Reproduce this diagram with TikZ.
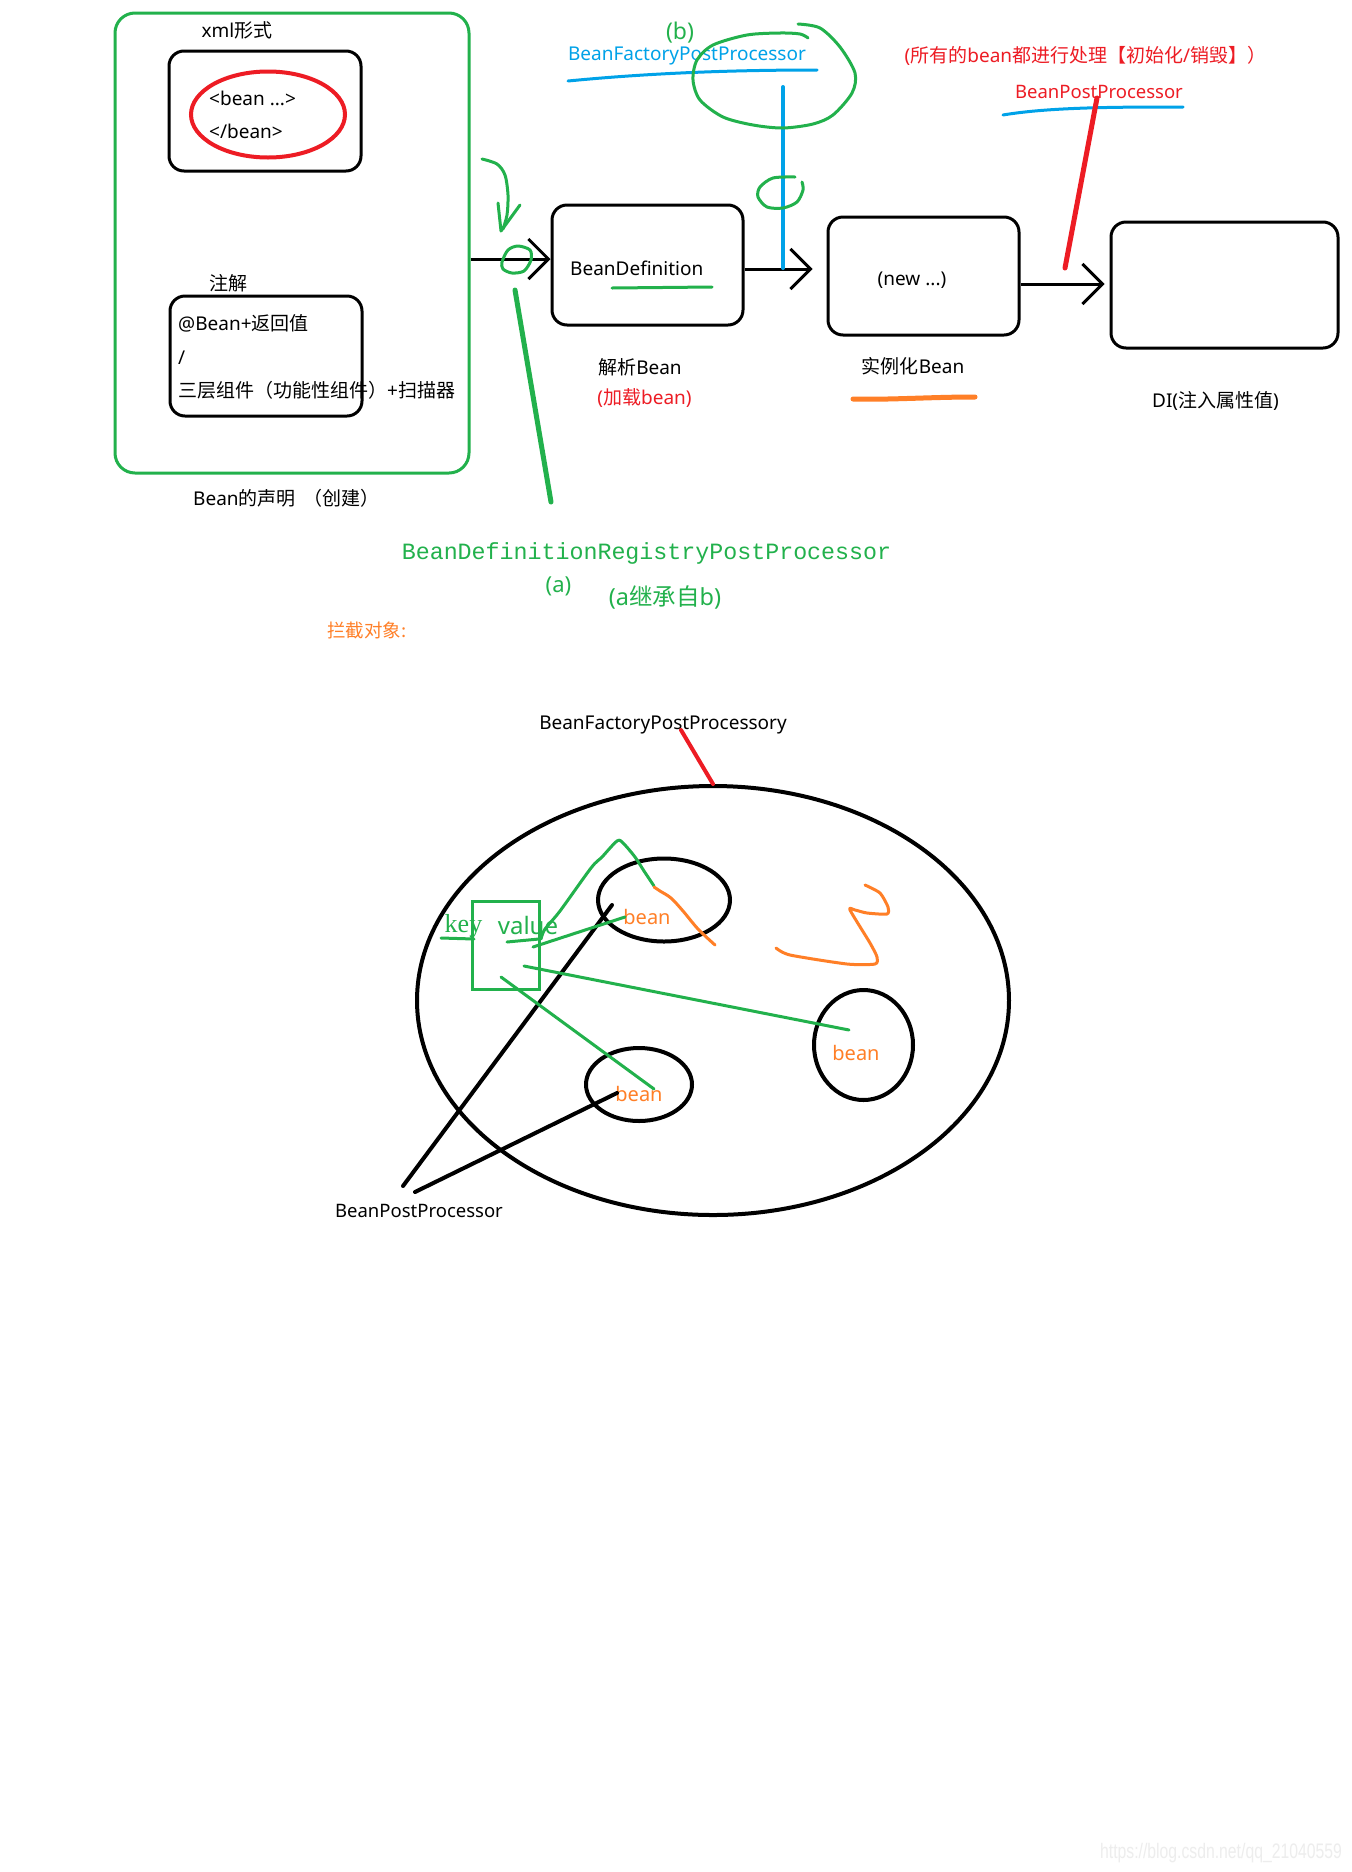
\documentclass[tikz,border=0pt]{standalone}
\usepackage{fontspec}
\setmainfont{Noto Sans}
\newfontfamily\zh{Noto Sans CJK SC}
\newfontfamily\codefont{Liberation Mono}
\newfontfamily\keyfont{Liberation Serif}
\newfontfamily\wmfont{Liberation Sans}
\usetikzlibrary{arrows.meta,shapes.geometric}

\definecolor{pgreen}{RGB}{34,177,76}
\definecolor{pred}{RGB}{237,28,36}
\definecolor{pblue}{RGB}{0,162,232}
\definecolor{porange}{RGB}{255,127,39}

\newcommand{\fsz}[1]{\fontsize{#1}{#1}\selectfont}

\tikzset{
  box/.style={draw, line width=3pt, rounded corners=15pt, inner sep=0pt},
  ring/.style={draw, ellipse, line width=4pt, inner sep=0pt},
  lbl/.style={inner sep=0pt, font=\fsz{19}},
  arr/.style={line width=3pt, -{Straight Barb[length=20pt,width=40pt]}},
  pen/.style={line width=3pt, line cap=round, line join=round},
}

\begin{document}
\begin{tikzpicture}[x=1pt, y=-1pt]
\useasboundingbox (0,0) rectangle (1352,1872);
\fill[white] (0,0) rectangle (1352,1872);

% bean declaration
\node[box, draw=pgreen, rounded corners=20pt, minimum width=354pt, minimum height=460pt] (decl) at (292,243) {};
\node[lbl] (xmltitle) at (237,30) {xml{\zh 形式}};
\node[box, minimum width=192pt, minimum height=120pt] (xmlbox) at (265,111) {};
\node[ring, draw=pred, minimum width=154pt, minimum height=86pt] (xmlring) at (268,114.5) {};
\node[lbl, anchor=west] (beanopen) at (209,98) {<bean ...>};
\node[lbl, anchor=west] (beanclose) at (209,131) {</bean>};
\node[lbl] (anntitle) at (228,283) {\zh 注解};
\node[box, minimum width=192pt, minimum height=120pt] (annbox) at (266,356) {};
\node[lbl, anchor=west] (annone) at (178,323) {@Bean+{\zh 返回值}};
\node[lbl, anchor=west] (anntwo) at (178,358) {/};
\node[lbl, anchor=west] (annthree) at (178,390) {{\zh 三层组件（功能性组件）}+{\zh 扫描器}};
\node[lbl, anchor=west] (decltitle) at (193,498) {Bean{\zh 的声明\hspace{8pt}（创建）}};

% main flow
\node[box, minimum width=191pt, minimum height=120pt] (bdbox) at (647.5,265) {};
\node[box, minimum width=191pt, minimum height=118pt] (newbox) at (923.5,276) {};
\node[box, minimum width=227pt, minimum height=126pt] (dibox) at (1224.5,285) {};
\node[lbl, anchor=west] (bdtext) at (570,268) {BeanDefinition};
\node[lbl] (newtext) at (912,280) {(new ...)};
\draw[arr] (decl.east |- 0,259) -- (bdbox.west |- 0,259);
\draw[arr, shorten >=14pt] (bdbox.east |- 0,269) -- (newbox.west |- 0,269);
\draw[arr, shorten >=5pt] (newbox.east |- 0,284) -- (dibox.west |- 0,284);
\node[lbl] (parse) at (640,367) {{\zh 解析}Bean};
\node[lbl, text=pred] (load) at (644.5,398) {({\zh 加载}bean)};
\node[lbl] (inst) at (913,366) {{\zh 实例化}Bean};
\node[lbl] (di) at (1215.5,401) {DI({\zh 注入属性值})};

% processors
\node[lbl, text=pgreen, font=\fsz{23}] (blabel) at (680,33) {(b)};
\node[lbl, text=pblue] (bfpp) at (687,56) {BeanFactoryPostProcessor};
\node[lbl, text=pred] (allnote) at (1085.5,56) {({\zh 所有的}bean{\zh 都进行处理【初始化}/{\zh 销毁】）}};
\node[lbl, text=pred, font=\fsz{18.5}] (bpp) at (1099,92) {BeanPostProcessor};

\draw[pen, pblue] (568,81) .. controls (640,74) and (720,70) .. (817,70);
\draw[pen, pblue, line width=4pt] (783,87) -- (783,268);
\draw[pen, pblue] (1003,115) .. controls (1050,107) and (1120,107) .. (1183,107);
\draw[pen, pred, line width=5pt] (1097,98) -- (1065,268);
\draw[pen, pgreen] (612,288) -- (712,287);
\draw[pen, porange, line width=5pt] (853,399) .. controls (890,400) and (930,397) .. (975,397);

% green marks
\draw[pen, pgreen] plot[smooth] coordinates {(798,24) (820,28) (840,47) (855,73) (852,93) (833,115) (813,124) (783,128) (753,125) (723,117) (700,100) (693,80) (697,60) (713,45) (747,35) (780,33) (800,34) (808,38)};
\draw[pen, pgreen] plot[smooth] coordinates {(795,177) (773,178) (760,187) (758,197) (767,207) (783,208) (797,202) (803,190) (802,182)};
\draw[pen, pgreen] plot[smooth cycle] coordinates {(502,262) (508,250) (518,246) (530,250) (531,260) (524,271) (512,273) (503,269)};
\draw[pen, pgreen] plot[smooth] coordinates {(482,159) (497,164) (505,175) (508,195) (507,215) (503,229)};
\draw[pen, pgreen] (498,203) -- (501,231) -- (520,205);
\draw[pen, pgreen, line width=5pt] (515,290) -- (551,502);

\node[lbl, text=pgreen, font=\codefont\fsz{23.3}] (bdrpp) at (646.5,553) {BeanDefinitionRegistryPostProcessor};
\node[lbl, text=pgreen, font=\fsz{22}] (alabel) at (558.5,586) {(a)};
\node[lbl, text=pgreen, font=\fsz{23.5}] (inherit) at (665,597) {(a{\zh 继承自}b)};
\node[lbl, text=porange, font=\zh\fsz{18.5}] (target) at (367,630) {拦截对象:};

% bean factory
\node[lbl] (bfppy) at (663,725) {BeanFactoryPostProcessory};
\node[ring, minimum width=592pt, minimum height=429pt] (factory) at (713,1000.5) {};
\node[ring, minimum width=132pt, minimum height=83pt] (beanone) at (664,900) {};
\node[ring, minimum width=106pt, minimum height=73pt] (beantwo) at (639,1084.5) {};
\node[ring, minimum width=99pt, minimum height=110pt] (beanthree) at (863.5,1045) {};
\node[lbl, text=porange, font=\fsz{20}] (beanonetext) at (647,917) {bean};
\node[lbl, text=porange, font=\fsz{20}] (beantwotext) at (639,1094) {bean};
\node[lbl, text=porange, font=\fsz{20}] (beanthreetext) at (856,1053) {bean};
\node[draw=pgreen, line width=3pt, minimum width=67pt, minimum height=88pt, inner sep=0pt] (map) at (505.5,945) {};
\node[lbl, text=pgreen, font=\keyfont\fsz{26}] (key) at (463.5,926) {key};
\node[lbl, text=pgreen, font=\fsz{24}] (value) at (528,925) {value};
\node[lbl, font=\fsz{18.5}] (bppy) at (419,1211) {BeanPostProcessor};

\coordinate (hookone) at (612,905);
\coordinate (hooktwo) at (617,1093);
\draw[pen, pred, line width=4pt] (681,730) -- (factory.north);
\draw[pen, line width=4pt] ([xshift=-16pt,yshift=25pt]bppy.center) -- (hookone);
\draw[pen, line width=4pt] ([xshift=-4pt,yshift=19pt]bppy.center) -- (hooktwo);

\draw[pen, pgreen] (533,947) -- (625,917);
\draw[pen, pgreen] (524,966) -- (849,1030);
\draw[pen, pgreen] (501,977) -- (654,1089);
\draw[pen, pgreen] (441,938) -- (474,939);
\draw[pen, pgreen] (507,942) -- (539,939);
\draw[pen, pgreen] plot[smooth] coordinates {(541,939) (545,929) (560,911) (591,868) (602,857) (617,841) (623,843) (635,857) (644,871) (654,886)};
\draw[pen, porange] plot[smooth] coordinates {(654,887) (660,891) (671,898) (683,911) (698,929) (715,945)};
\draw[pen, porange] plot[smooth, tension=0.4] coordinates {(776,948) (790,955) (847,964) (875,964) (877,957) (870,943) (850,910) (855,910) (867,913) (887,914) (888,907) (880,893) (865,885)};

\node[inner sep=0pt, text=black!7, font=\wmfont\fsz{21}, xscale=0.75] (mark) at (1221,1853) {https://blog.csdn.net/qq\_21040559};
\end{tikzpicture}
\end{document}
